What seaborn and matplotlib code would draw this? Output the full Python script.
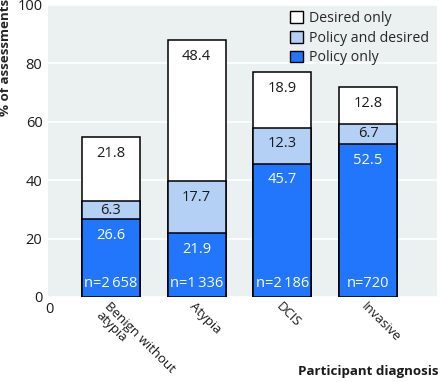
import matplotlib
matplotlib.use("Agg")
import matplotlib.pyplot as plt
import matplotlib.patches as mpatches
import seaborn as sns
import pandas as pd
import numpy as np

# --data--
diagnoses = ["Benign without\natypia", "Atypia", "DCIS", "Invasive"]
policy_only = [26.6, 21.9, 45.7, 52.5]
policy_and_desired = [6.3, 17.7, 12.3, 6.7]
desired_only = [21.8, 48.4, 18.9, 12.8]
n_labels = ["n=2\u2009658", "n=1\u2009336", "n=2\u2009186", "n=720"]

c_blue = "#2176fb"
c_light = "#b5d0f5"
c_white = "#ffffff"
c_bg = "#ebf0f0"

sns.set_theme(style="white")
plt.rcParams["font.family"] = ["Open Sans", "DejaVu Sans"]
plt.rcParams["font.size"] = 10

df = pd.DataFrame({"diag": diagnoses,
                   "p": policy_only,
                   "pd": policy_and_desired,
                   "d": desired_only})
df["lvl1"] = df["p"]
df["lvl2"] = df["p"] + df["pd"]
df["lvl3"] = df["lvl2"] + df["d"]

fig = plt.figure(figsize=(4.4, 3.82), dpi=100)
ax = fig.add_axes([48 / 440, 1 - 297 / 382, (437 - 48) / 440, (297 - 5) / 382])
ax.set_facecolor(c_bg)

w = 0.68
for col, c in [("lvl3", c_white), ("lvl2", c_light), ("lvl1", c_blue)]:
    sns.barplot(data=df, x="diag", y=col, color=c, width=w, saturation=1,
                edgecolor="black", linewidth=1.1, ax=ax, zorder=3)

# value labels
for i in range(len(diagnoses)):
    segs = [(0, df["lvl1"][i], policy_only[i], "white"),
            (df["lvl1"][i], df["lvl2"][i], policy_and_desired[i], "#1a1a1a"),
            (df["lvl2"][i], df["lvl3"][i], desired_only[i], "#1a1a1a")]
    for lo, hi, v, tc in segs:
        y = max(hi - 5.6, (lo + hi) / 2)
        ax.text(i, y, f"{v:.1f}", ha="center", va="center", color=tc,
                fontsize=10.5, zorder=5)
    ax.text(i, 4.6, n_labels[i], ha="center", va="center", color="white",
            fontsize=10.5, zorder=5)

ax.set_ylim(0, 100)
ax.set_xlim(-0.735, 3.805)
ax.set_yticks([0, 20, 40, 60, 80, 100])
ax.yaxis.grid(True, color="white", linewidth=1.2, zorder=0)
ax.set_axisbelow(True)
for s in ax.spines.values():
    s.set_visible(False)
ax.tick_params(axis="both", length=0, labelsize=10.5, colors="#1a1a1a")
ax.tick_params(axis="y", pad=4)
ax.set_xticks(range(len(diagnoses)))
ax.set_xticklabels(diagnoses, rotation=-45, ha="left", va="top",
                   rotation_mode="anchor", linespacing=0.95,
                   multialignment="left")
ax.tick_params(axis="x", pad=2, labelsize=9.5)
ax.set_xlabel("")
ax.set_ylabel("% of assessments", fontsize=9.6, fontweight="bold")
ax.yaxis.set_label_coords(-0.093, 0.82)

# stray second zero at origin
ax.text(-0.77, -1.6, "0", ha="left", va="top", fontsize=10.5, color="#1a1a1a")

fig.text(438 / 440, 1 - 371 / 382, "Participant diagnosis", ha="right",
         va="center", fontsize=9.6, fontweight="bold", color="#1a1a1a")

handles = [mpatches.Patch(facecolor=c_white, edgecolor="black", label="Desired only"),
           mpatches.Patch(facecolor=c_light, edgecolor="black", label="Policy and desired"),
           mpatches.Patch(facecolor=c_blue, edgecolor="black", label="Policy only")]
ax.legend(handles=handles, loc="upper right", bbox_to_anchor=(1.0, 1.01),
          frameon=False, fontsize=10.2, handlelength=0.9, handleheight=0.9,
          handletextpad=0.4, labelspacing=0.35, borderaxespad=0.2)

fig.savefig("out.png", dpi=100)
